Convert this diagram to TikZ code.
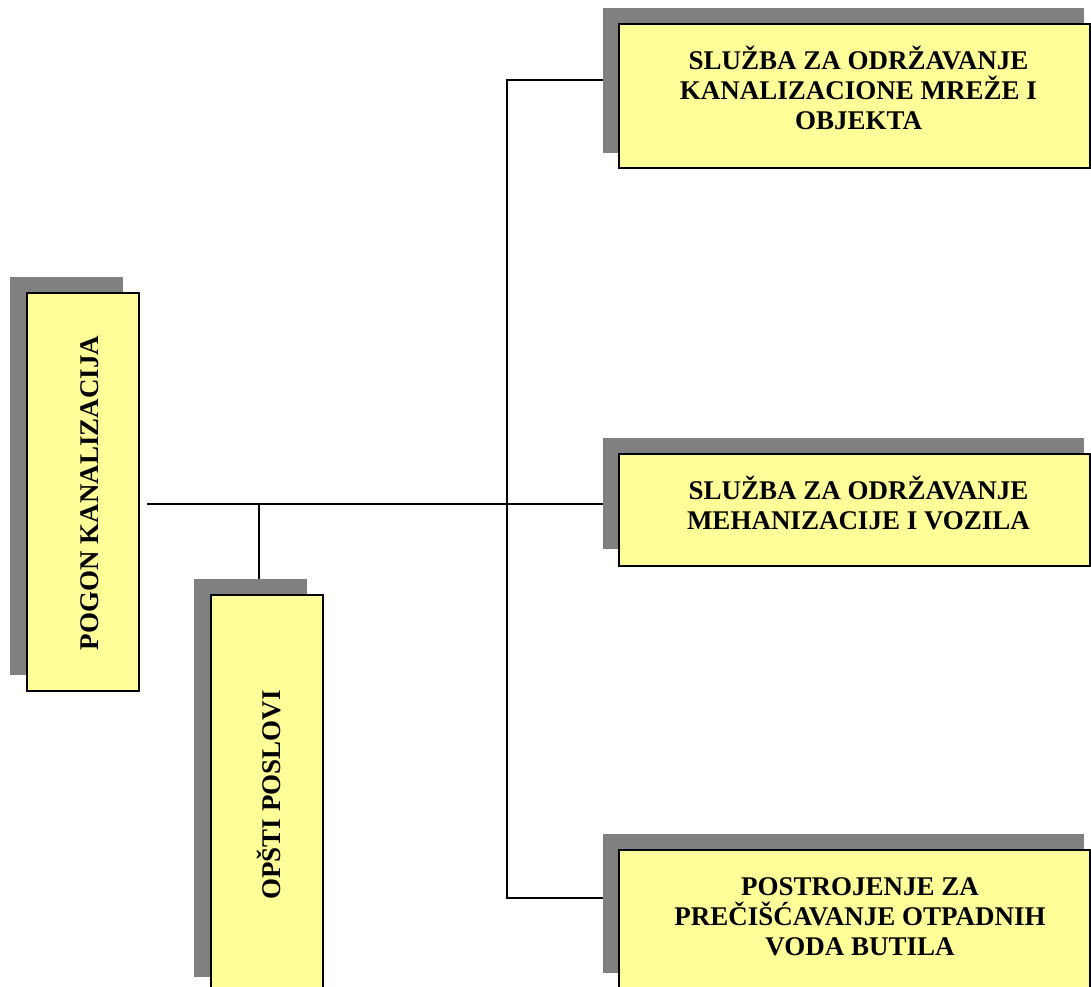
\documentclass[tikz,border=0pt]{standalone}
\usepackage{fontspec}
\setmainfont{Liberation Serif}
\definecolor{boxyellow}{HTML}{FFFF99}
\definecolor{shadowgray}{HTML}{808080}
\newcommand\boxlines[1]{\vtop{\baselineskip=30pt\lineskiplimit=-100pt\lineskip=0pt\halign{\hfil##\hfil\cr#1\crcr}}}
\tikzset{
  mainbox/.style={draw=black, line width=2pt, fill=boxyellow, rectangle, inner sep=0pt},
  shadowbox/.style={draw=none, fill=shadowgray, rectangle, inner sep=0pt},
  boxtext/.style={inner sep=0pt, anchor=base, font=\fontsize{27}{30}\selectfont\bfseries},
  link/.style={draw=black, line width=1.4pt},
}
\begin{document}
\begin{tikzpicture}[x=1pt, y=-1pt]
\useasboundingbox (0,0) rectangle (1091,986);
\clip (0,0) rectangle (1091,986);
% shadows
\node[shadowbox, minimum width=113pt, minimum height=398pt] (pogonS) at (66.5,476) {};
\node[shadowbox, minimum width=113pt, minimum height=398pt] (opstiS) at (250.5,778) {};
\node[shadowbox, minimum width=481pt, minimum height=145pt] (k1S) at (843.5,80.5) {};
\node[shadowbox, minimum width=481pt, minimum height=111pt] (k2S) at (843.5,493.5) {};
\node[shadowbox, minimum width=481pt, minimum height=139pt] (k3S) at (843.5,903.5) {};
% main boxes
\node[mainbox, minimum width=112pt, minimum height=398pt] (pogon) at (83,492) {};
\node[mainbox, minimum width=112.6pt, minimum height=398pt] (opsti) at (267,794) {};
\node[mainbox, minimum width=471pt, minimum height=144pt] (k1) at (854.5,96) {};
\node[mainbox, minimum width=471pt, minimum height=112.5pt] (k2) at (854.5,509.75) {};
\node[mainbox, minimum width=471pt, minimum height=140pt] (k3) at (854.5,920) {};
% texts
\node[boxtext, rotate=90] (pogonT) at (98,493) {POGON KANALIZACIJA};
\node[boxtext, rotate=90] (opstiT) at (280.5,795) {OPŠTI POSLOVI};
\node[boxtext] (k1T) at (858.5,69.3) {\boxlines{SLUŽBA ZA ODRŽAVANJE\cr KANALIZACIONE MREŽE I\cr OBJEKTA}};
\node[boxtext] (k2T) at (858.5,499.3) {\boxlines{SLUŽBA ZA ODRŽAVANJE\cr MEHANIZACIJE I VOZILA}};
\node[boxtext] (k3T) at (860,895) {\boxlines{POSTROJENJE ZA\cr PREČIŠĆAVANJE OTPADNIH\cr VODA BUTILA}};
% connectors
\coordinate (start) at (147,504);
\coordinate (branch) at (259,504);
\coordinate (spine) at (507,504);
\coordinate (spineTop) at (507,80);
\coordinate (spineBot) at (507,898);
\draw[link] (start) -- (start -| k2S.west);
\draw[link] (branch) -- (branch |- opstiS.north);
\draw[link] (k1S.west |- spineTop) -- (spineTop) -- (spineBot) -- (spineBot -| k3S.west);
\end{tikzpicture}
\end{document}
